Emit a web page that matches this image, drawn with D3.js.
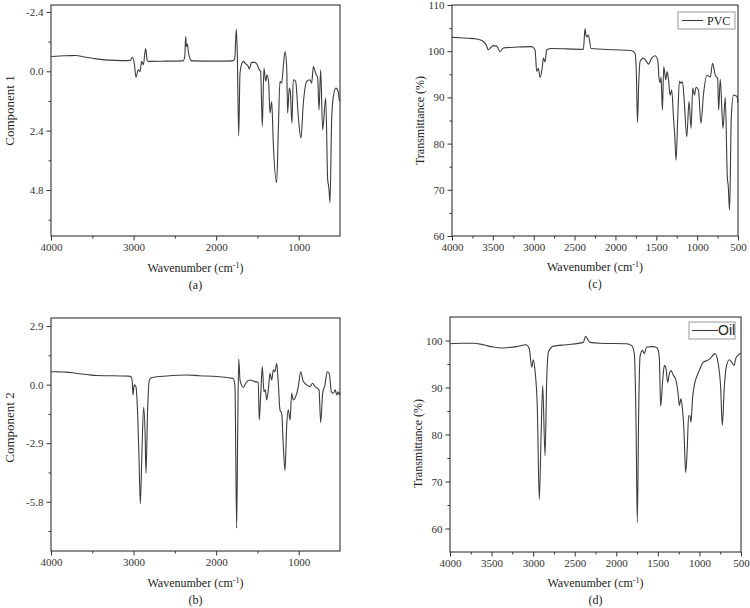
<!DOCTYPE html>
<html>
<head>
<meta charset="utf-8">
<script src="https://cdn.jsdelivr.net/npm/d3@7"></script>
<style>
  body { margin: 0; background: #fff; }
  svg { display: block; font-family: "Liberation Serif", "Times New Roman", serif; }
  .tick text { font-family: "Liberation Serif", "Times New Roman", serif; }
</style>
</head>
<body>
<div id="chart"></div>
<script>
// spectra as [wavenumber, value]
var comp1 = [[4000,-0.60],[3900,-0.62],[3800,-0.63],[3700,-0.64],[3600,-0.58],[3500,-0.53],[3400,-0.48],[3300,-0.45],[3150,-0.43],[3040,-0.44],[3015,-0.57],[2990,-0.30],[2971,0.24],[2943,-0.06],[2922,0.01],[2902,-0.40],[2882,-0.26],[2854,-0.92],[2835,-0.45],[2822,-0.40],[2600,-0.41],[2400,-0.42],[2380,-0.60],[2369,-1.41],[2360,-1.00],[2349,-1.10],[2337,-0.80],[2308,-0.45],[2296,-0.42],[2000,-0.41],[1800,-0.42],[1775,-0.50],[1756,-1.71],[1744,-0.74],[1727,2.61],[1711,0.07],[1690,-0.30],[1671,-0.40],[1651,-0.33],[1611,-0.19],[1599,-0.09],[1570,-0.36],[1530,-0.36],[1502,-0.26],[1478,-0.06],[1461,0.01],[1441,2.23],[1421,-0.13],[1400,0.41],[1384,0.14],[1364,0.48],[1348,1.69],[1327,1.22],[1308,2.90],[1267,4.50],[1247,2.37],[1227,0.41],[1206,0.48],[1187,-0.19],[1166,-0.80],[1146,-0.19],[1134,1.69],[1114,0.68],[1102,0.82],[1082,2.10],[1066,0.34],[1037,0.41],[1005,1.83],[973,2.70],[944,1.29],[904,0.41],[864,0.34],[843,0.48],[823,-0.19],[795,0.07],[770,0.28],[754,1.56],[734,-0.06],[710,2.37],[673,1.08],[649,4.39],[640,4.60],[633,4.80],[621,5.31],[601,1.96],[581,1.02],[549,0.68],[521,0.82],[509,1.15],[500,1.20]];

var comp2 = [[4000,0.64],[3900,0.63],[3810,0.62],[3700,0.56],[3568,0.50],[3450,0.45],[3326,0.44],[3150,0.43],[3064,0.42],[3028,0.37],[3015,0.10],[3007,-0.51],[2992,-0.01],[2971,-0.10],[2951,-1.42],[2935,-3.50],[2918,-5.90],[2898,-3.23],[2878,-1.12],[2860,-2.50],[2850,-4.39],[2830,-1.25],[2809,0.23],[2777,0.35],[2595,0.43],[2360,0.48],[2200,0.44],[1990,0.40],[1830,0.33],[1792,0.30],[1772,-0.10],[1752,-7.11],[1739,-2.41],[1727,1.27],[1711,0.23],[1703,0.10],[1671,-0.13],[1642,0.07],[1590,0.23],[1530,0.15],[1490,0.10],[1478,-1.75],[1460,-0.50],[1441,0.89],[1421,-0.35],[1405,-0.26],[1388,-0.76],[1368,-0.26],[1348,0.56],[1327,0.23],[1307,0.73],[1287,0.64],[1267,1.06],[1247,0.07],[1227,-1.25],[1206,-1.42],[1186,-3.07],[1166,-4.26],[1146,-2.08],[1126,-1.25],[1105,-1.75],[1085,-0.43],[1066,-0.76],[1045,-0.67],[1005,-0.10],[976,0.64],[944,0.15],[904,-0.01],[864,-0.10],[832,0.07],[803,-0.10],[775,-0.18],[754,-0.26],[734,-1.88],[710,-0.43],[682,-0.01],[654,0.64],[630,0.56],[605,-0.35],[581,-0.43],[557,-0.26],[540,-0.51],[521,-0.35],[509,-0.51],[500,-0.40]];

var pvc = [[4000,103.0],[3900,102.9],[3800,102.8],[3718,102.7],[3650,102.4],[3617,102.1],[3580,101.3],[3556,100.3],[3520,100.9],[3495,101.2],[3453,101.1],[3412,99.9],[3371,100.7],[3200,100.9],[3025,101.0],[2984,100.3],[2963,95.6],[2943,96.3],[2922,94.3],[2894,96.7],[2882,98.5],[2861,97.7],[2841,100.3],[2780,100.6],[2392,100.4],[2372,104.9],[2360,103.4],[2351,103.1],[2331,103.5],[2298,100.6],[2000,100.3],[1800,100.1],[1760,99.5],[1745,96.0],[1730,84.6],[1715,93.0],[1699,97.7],[1658,98.5],[1617,97.7],[1597,97.2],[1556,98.5],[1515,99.0],[1482,98.1],[1466,94.1],[1450,93.2],[1442,94.4],[1425,87.3],[1409,96.7],[1384,93.8],[1368,95.6],[1352,94.1],[1331,90.5],[1311,91.6],[1290,85.8],[1275,82.0],[1258,76.4],[1237,85.8],[1217,93.5],[1197,93.1],[1180,93.4],[1160,89.8],[1127,81.5],[1099,89.1],[1074,83.3],[1054,92.0],[1033,90.5],[1013,92.2],[984,91.6],[954,84.4],[921,90.9],[880,94.8],[839,94.4],[811,97.4],[778,94.8],[749,94.1],[737,87.3],[717,93.9],[684,83.3],[656,90.0],[630,72.5],[620,71.0],[603,65.6],[582,85.8],[554,90.5],[513,90.2],[500,88.8]];

var oil = [[4000,99.3],[3850,99.4],[3720,99.4],[3600,99.1],[3480,98.6],[3378,98.4],[3300,98.5],[3198,98.7],[3086,99.1],[3046,98.2],[3017,94.3],[2998,95.9],[2978,93.6],[2950,85.8],[2926,66.2],[2905,79.4],[2885,90.4],[2857,75.5],[2837,91.5],[2817,97.5],[2757,98.8],[2597,99.1],[2397,99.6],[2369,100.9],[2348,100.4],[2316,99.6],[2196,99.4],[1875,99.3],[1815,98.9],[1783,97.2],[1763,83.0],[1747,61.3],[1731,84.4],[1715,96.5],[1687,97.9],[1663,97.2],[1635,98.6],[1555,98.7],[1507,98.4],[1483,96.5],[1466,86.0],[1442,91.5],[1422,94.7],[1402,94.0],[1382,91.1],[1362,92.9],[1342,93.6],[1314,92.6],[1282,91.5],[1254,88.3],[1242,86.2],[1222,87.6],[1206,85.8],[1186,80.9],[1166,71.9],[1146,77.3],[1130,84.0],[1114,84.0],[1102,82.6],[1082,87.9],[1054,91.1],[1026,92.6],[993,94.0],[953,95.4],[913,95.7],[873,96.1],[813,97.2],[773,95.0],[745,90.1],[725,81.9],[701,90.1],[673,94.7],[641,95.9],[613,95.4],[584,94.7],[560,96.3],[540,96.8],[512,97.2],[500,97.3]];

// tick values
var wnTicksAB = [4000, 3000, 2000, 1000];
var wnMinorAB = [3500, 2500, 1500];
var wnTicksCD = [4000, 3500, 3000, 2500, 2000, 1500, 1000, 500];
var wnMinorCD = [3750, 3250, 2750, 2250, 1750, 1250, 750];
var comp1Ticks = [-2.4, 0.0, 2.4, 4.8];
var comp1Minor = [-1.2, 1.2, 3.6, 6.0];
var comp2Ticks = [2.9, 0.0, -2.9, -5.8];
var comp2Minor = [1.45, -1.45, -4.35, -7.25];
var pvcTicks = [110, 100, 90, 80, 70, 60];
var pvcMinor = [105, 95, 85, 75, 65];
var oilTicks = [100, 90, 80, 70, 60];
var oilMinor = [95, 85, 75, 65];

var svg = d3.select("#chart").append("svg")
    .attr("width", 750)
    .attr("height", 608);

var lineColor = "#3c3c3c";

function drawPanel(p) {
  var x = d3.scaleLinear().domain([4000, 500]).range([p.left, p.right]);
  var y = d3.scaleLinear().domain(p.yDomain).range([p.bottom, p.top]);
  var g = svg.append("g");

  // minor ticks first, then major ticks with labels
  g.append("g")
      .attr("transform", "translate(0," + p.bottom + ")")
      .call(d3.axisBottom(x).tickValues(p.xMinor).tickSize(2.5).tickFormat(""))
      .call(function(a) { a.select(".domain").remove(); });
  g.append("g")
      .attr("transform", "translate(0," + p.bottom + ")")
      .call(d3.axisBottom(x).tickValues(p.xTicks).tickSize(4.5).tickPadding(3).tickFormat(d3.format("d")))
      .call(function(a) { a.select(".domain").remove(); });
  g.append("g")
      .attr("transform", "translate(" + p.left + ",0)")
      .call(d3.axisLeft(y).tickValues(p.yMinor).tickSize(2.5).tickFormat(""))
      .call(function(a) { a.select(".domain").remove(); });
  g.append("g")
      .attr("transform", "translate(" + p.left + ",0)")
      .call(d3.axisLeft(y).tickValues(p.yTicks).tickSize(4.5).tickPadding(3).tickFormat(p.yFormat))
      .call(function(a) { a.select(".domain").remove(); });

  g.selectAll(".tick text")
      .attr("font-size", 11)
      .attr("fill", "#333");
  g.selectAll(".tick line").attr("stroke", "#333");

  g.append("rect")
      .attr("x", p.left)
      .attr("y", p.top)
      .attr("width", p.right - p.left)
      .attr("height", p.bottom - p.top)
      .attr("fill", "none")
      .attr("stroke", "#333")
      .attr("stroke-width", 1.1);

  var line = d3.line()
      .x(function(d) { return x(d[0]); })
      .y(function(d) { return y(d[1]); })
      .curve(d3.curveMonotoneX);

  g.append("path")
      .datum(p.data)
      .attr("d", line)
      .attr("fill", "none")
      .attr("stroke", lineColor)
      .attr("stroke-width", 1.1)
      .attr("stroke-linejoin", "round");

  // y title
  g.append("text")
      .attr("transform", "translate(" + p.yTitleX + "," + ((p.top + p.bottom) / 2 + p.yTitleShift) + ") rotate(-90)")
      .attr("text-anchor", "middle")
      .attr("dy", "0.35em")
      .attr("font-size", p.yTitleSize)
      .attr("fill", "#222")
      .text(p.yTitle);

  // x title with superscript
  var cx = (p.left + p.right) / 2;
  var xt = g.append("text")
      .attr("x", cx)
      .attr("y", p.xTitleY)
      .attr("text-anchor", "middle")
      .attr("font-size", 12)
      .attr("fill", "#222");
  xt.append("tspan").text("Wavenumber (cm");
  xt.append("tspan").attr("dy", -4.5).attr("font-size", 8).text("-1");
  xt.append("tspan").attr("dy", 4.5).text(")");

  g.append("text")
      .attr("x", cx)
      .attr("y", p.xTitleY + 17)
      .attr("text-anchor", "middle")
      .attr("font-size", 12)
      .attr("fill", "#222")
      .text(p.caption);

  if (p.legend) {
    var L = p.legend;
    g.append("rect")
        .attr("x", L.x).attr("y", L.y)
        .attr("width", L.w).attr("height", L.h)
        .attr("fill", "#fff")
        .attr("stroke", "#999")
        .attr("stroke-width", 1);
    g.append("line")
        .attr("x1", L.x + L.l1).attr("x2", L.x + L.l2)
        .attr("y1", L.y + L.h / 2).attr("y2", L.y + L.h / 2)
        .attr("stroke", lineColor)
        .attr("stroke-width", 1.1);
    g.append("text")
        .attr("x", L.x + L.tx)
        .attr("y", L.y + L.h / 2)
        .attr("dy", "0.35em")
        .style("font-family", L.font)
        .attr("font-size", L.size)
        .attr("fill", "#222")
        .text(L.label);
  }
}

var fmt1 = function(d) { return d.toFixed(1); };

drawPanel({
  data: comp1, left: 51, right: 340, top: 5, bottom: 236,
  yDomain: [6.66, -2.68], yTicks: comp1Ticks, yMinor: comp1Minor, yFormat: fmt1,
  xTicks: wnTicksAB, xMinor: wnMinorAB,
  yTitle: "Component 1", yTitleX: 9, yTitleShift: -10, yTitleSize: 13,
  xTitleY: 272, caption: "(a)"
});

drawPanel({
  data: comp2, left: 51, right: 340, top: 318, bottom: 551,
  yDomain: [-8.24, 3.30], yTicks: comp2Ticks, yMinor: comp2Minor, yFormat: fmt1,
  xTicks: wnTicksAB, xMinor: wnMinorAB,
  yTitle: "Component 2", yTitleX: 9, yTitleShift: -7, yTitleSize: 13,
  xTitleY: 587, caption: "(b)"
});

drawPanel({
  data: pvc, left: 452, right: 738, top: 5, bottom: 236,
  yDomain: [60, 110], yTicks: pvcTicks, yMinor: pvcMinor, yFormat: d3.format("d"),
  xTicks: wnTicksCD, xMinor: wnMinorCD,
  yTitle: "Transmittance (%)", yTitleX: 420, yTitleShift: 0, yTitleSize: 12,
  xTitleY: 271, caption: "(c)",
  legend: { x: 678, y: 12, w: 57, h: 17, l1: 4, l2: 25, tx: 29, label: "PVC", font: "'Liberation Serif', serif", size: 12 }
});

drawPanel({
  data: oil, left: 450, right: 741, top: 317, bottom: 552,
  yDomain: [55, 105], yTicks: oilTicks, yMinor: oilMinor, yFormat: d3.format("d"),
  xTicks: wnTicksCD, xMinor: wnMinorCD,
  yTitle: "Transmittance (%)", yTitleX: 418, yTitleShift: 9, yTitleSize: 12,
  xTitleY: 587, caption: "(d)",
  legend: { x: 689, y: 322, w: 46, h: 17, l1: 3, l2: 29, tx: 29, label: "Oil", font: "'Liberation Sans', Arial, sans-serif", size: 14 }
});
</script>
</body>
</html>
